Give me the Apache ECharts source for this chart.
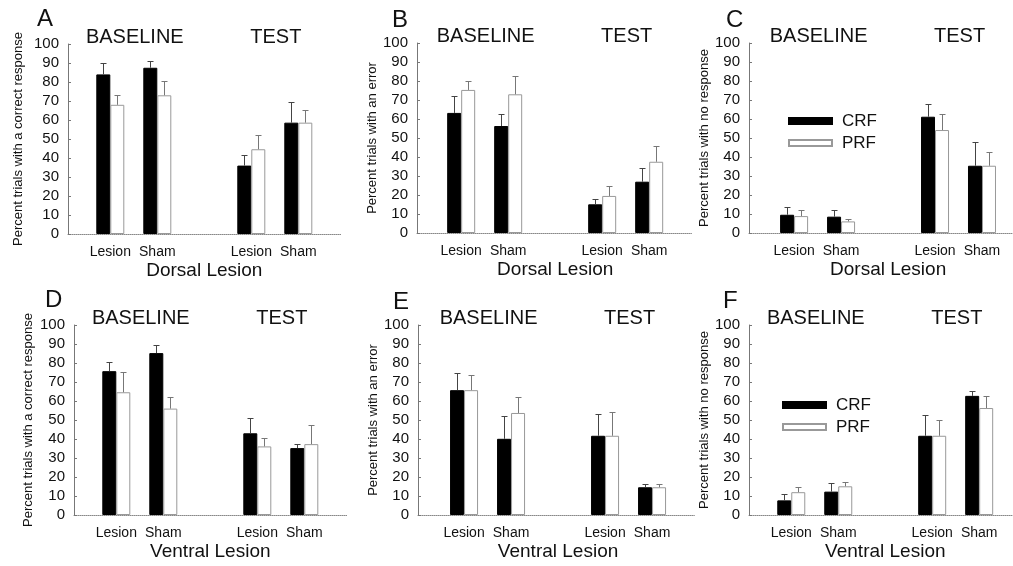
<!DOCTYPE html>
<html><head><meta charset="utf-8">
<script src="https://cdn.jsdelivr.net/npm/echarts@6/dist/echarts.min.js"></script>
<style>html,body{margin:0;padding:0;background:#fff}#c{width:1013px;height:566px}</style>
</head><body><div id="c"></div>
<script>
// ---------- data ----------
const groupLabels = ['Lesion', 'Sham', 'Lesion', 'Sham'];
const groupPos = [1, 2, 4, 5];           // Baseline: Lesion, Sham | Test: Lesion, Sham
const phaseTitles = ['BASELINE', 'TEST'];
const phasePos = [1.5, 4.5];
const panelLetters = ['A', 'B', 'C', 'D', 'E', 'F'];
const yNames = ['Percent trials with a correct response', 'Percent trials with an error', 'Percent trials with no response',
                'Percent trials with a correct response', 'Percent trials with an error', 'Percent trials with no response'];
const xNames = ['Dorsal Lesion', 'Dorsal Lesion', 'Dorsal Lesion', 'Ventral Lesion', 'Ventral Lesion', 'Ventral Lesion'];
const seriesNames = ['CRF', 'PRF'];
const yMin = 0, yMax = 100, yStep = 10;

const crfA = [84, 87.5, 36, 58.6],   crfAErr = [6, 3.5, 5.8, 10.7];
const prfA = [68, 73, 44.6, 58.6],   prfAErr = [5.3, 7.3, 7.3, 6.7];
const crfB = [63.2, 56.3, 15.1, 27], crfBErr = [9, 6.3, 2.6, 7];
const prfB = [75.3, 73, 19.5, 37.5], prfBErr = [4.7, 9.5, 5.2, 8.1];
const crfC = [9.6, 8.6, 61.2, 35.4], crfCErr = [3.9, 3.3, 6.7, 12.3];
const prfC = [8.9, 6.1, 54.2, 35.4], prfCErr = [3, 1.4, 8.4, 7.1];
const crfD = [75.7, 85.2, 43, 35.2], crfDErr = [4.6, 4.4, 8.2, 2.1];
const prfD = [64.6, 56, 36.1, 37.3], prfDErr = [10.6, 6.3, 4.2, 10.1];
const crfE = [65.7, 40.1, 41.7, 14.6], crfEErr = [8.8, 12.2, 11.5, 1.9];
const prfE = [65.7, 53.7, 41.7, 14.6], prfEErr = [8.2, 8.6, 12.3, 1.9];
const crfF = [7.7, 12.3, 41.7, 62.7], crfFErr = [3.4, 4.4, 10.9, 2.4];
const prfF = [12, 15.1, 41.7, 56.3],  prfFErr = [2.6, 2.2, 8.3, 6.4];

const panelData = [
  [crfA, crfAErr, prfA, prfAErr], [crfB, crfBErr, prfB, prfBErr], [crfC, crfCErr, prfC, prfCErr],
  [crfD, crfDErr, prfD, prfDErr], [crfE, crfEErr, prfE, prfEErr], [crfF, crfFErr, prfF, prfFErr]
];

// ---------- layout ----------
const SLOT = 47;    // px per x unit
const PH = 190;     // plot height
const layout = [
  {left: 68,  top: 44,  min: 0.10, max: 5.90, gap: 43, lx: 37,  ly: 19},
  {left: 417, top: 43,  min: 0.06, max: 5.90, gap: 34, lx: 392, ly: 20.5},
  {left: 749, top: 43,  min: 0.04, max: 5.66, gap: 34, lx: 726, ly: 20.5},
  {left: 74,  top: 325, min: 0.10, max: 5.90, gap: 39, lx: 45,  ly: 300.5},
  {left: 418, top: 325, min: 0.02, max: 5.90, gap: 35, lx: 393, ly: 302},
  {left: 749, top: 325, min: 0.10, max: 5.72, gap: 38, lx: 723, ly: 301.5}
];
const FONT = 'Liberation Sans, Arial, Helvetica, sans-serif';
const TXT = '#111';

function errItem(dx, color) {
  return function (params, api) {
    const x = api.value(0), y = api.value(1), e = api.value(2);
    const p0 = api.coord([x, y]), p1 = api.coord([x, y + e]);
    const cx = Math.round(p0[0] + dx) + 0.5;
    const ty = Math.round(p1[1]) + 0.5;
    return {type: 'group', children: [
      {type: 'line', shape: {x1: cx, y1: p0[1], x2: cx, y2: ty}, style: {stroke: color, lineWidth: 1}},
      {type: 'line', shape: {x1: cx - 3, y1: ty, x2: cx + 3, y2: ty}, style: {stroke: color, lineWidth: 1}}
    ]};
  };
}

const grids = [], xAxes = [], yAxes = [], series = [], graphics = [];
layout.forEach((L, i) => {
  const width = (L.max - L.min) * SLOT;
  grids.push({left: L.left, top: L.top, width: width, height: PH, containLabel: false});
  const px = v => L.left + (v - L.min) * SLOT;
  xAxes.push({
    type: 'value', gridIndex: i, min: L.min, max: L.max,
    axisLine: {show: true, lineStyle: {color: '#888', type: 'dotted', width: 1}},
    axisTick: {show: false}, splitLine: {show: false},
    axisLabel: {
      customValues: groupPos, hideOverlap: false,
      formatter: v => { const k = groupPos.indexOf(v); return k >= 0 ? groupLabels[k] : ''; },
      color: TXT, fontSize: 14, fontFamily: FONT, margin: 11
    }
  });
  yAxes.push({
    type: 'value', gridIndex: i, min: yMin, max: yMax, interval: yStep,
    axisLine: {show: true, lineStyle: {color: '#777', width: 1}},
    axisTick: {show: true, inside: true, length: 3, lineStyle: {color: '#777'}},
    splitLine: {show: false},
    axisLabel: {color: TXT, fontSize: 15, fontFamily: FONT, margin: 9},
    name: yNames[i], nameLocation: 'middle', nameGap: L.gap, nameRotate: 90,
    nameTextStyle: {color: TXT, fontSize: 13, fontFamily: FONT}
  });
  const [crf, crfE, prf, prfE] = panelData[i];
  series.push({
    type: 'bar', name: seriesNames[0], xAxisIndex: i, yAxisIndex: i,
    barWidth: 14, barGap: '0%',
    itemStyle: {color: '#000', borderColor: '#000', borderWidth: 1},
    data: groupPos.map((x, k) => [x, crf[k]]), animation: false
  });
  series.push({
    type: 'bar', name: seriesNames[1], xAxisIndex: i, yAxisIndex: i,
    barWidth: 14, barGap: '0%',
    itemStyle: {color: '#fff', borderColor: '#999', borderWidth: 1},
    data: groupPos.map((x, k) => [x, prf[k]]), animation: false
  });
  series.push({
    type: 'custom', name: 'CRF error', xAxisIndex: i, yAxisIndex: i, z: 5,
    renderItem: errItem(-7, '#444'), encode: {x: 0, y: 1},
    data: groupPos.map((x, k) => [x, crf[k], crfE[k]]), animation: false, silent: true
  });
  series.push({
    type: 'custom', name: 'PRF error', xAxisIndex: i, yAxisIndex: i, z: 5,
    renderItem: errItem(7, '#777'), encode: {x: 0, y: 1},
    data: groupPos.map((x, k) => [x, prf[k], prfE[k]]), animation: false, silent: true
  });
  // panel letter
  graphics.push({type: 'text', left: L.lx, top: L.ly - 12, style: {text: panelLetters[i], fill: TXT, fontSize: 24, fontFamily: FONT}});
  // phase titles
  const ty = L.top - 7;
  phaseTitles.forEach((t, k) => {
    graphics.push({type: 'text', x: px(phasePos[k]) + 1, y: ty, style: {text: t, fill: TXT, fontSize: 20, fontFamily: FONT, align: 'center', verticalAlign: 'middle'}});
  });
  // x name
  graphics.push({type: 'text', x: px(3), y: L.top + PH + 37, style: {text: xNames[i], fill: TXT, fontSize: 19, fontFamily: FONT, align: 'center', verticalAlign: 'middle'}});
});

const legendBase = {
  data: seriesNames, orient: 'vertical', itemWidth: 43, itemHeight: 6, itemGap: 2,
  selectedMode: false, icon: 'rect',
  textStyle: {color: TXT, fontSize: 17, fontFamily: FONT, lineHeight: 20, padding: [0, 0, 0, 5]}
};
const legends = [
  Object.assign({}, legendBase, {left: 783, top: 106}),
  Object.assign({}, legendBase, {left: 777, top: 390})
];

const chart = echarts.init(document.getElementById('c'), null, {renderer: 'canvas'});
chart.setOption({
  backgroundColor: '#fff', animation: false,
  grid: grids, xAxis: xAxes, yAxis: yAxes, series: series, legend: legends,
  graphic: graphics
});
</script></body></html>
